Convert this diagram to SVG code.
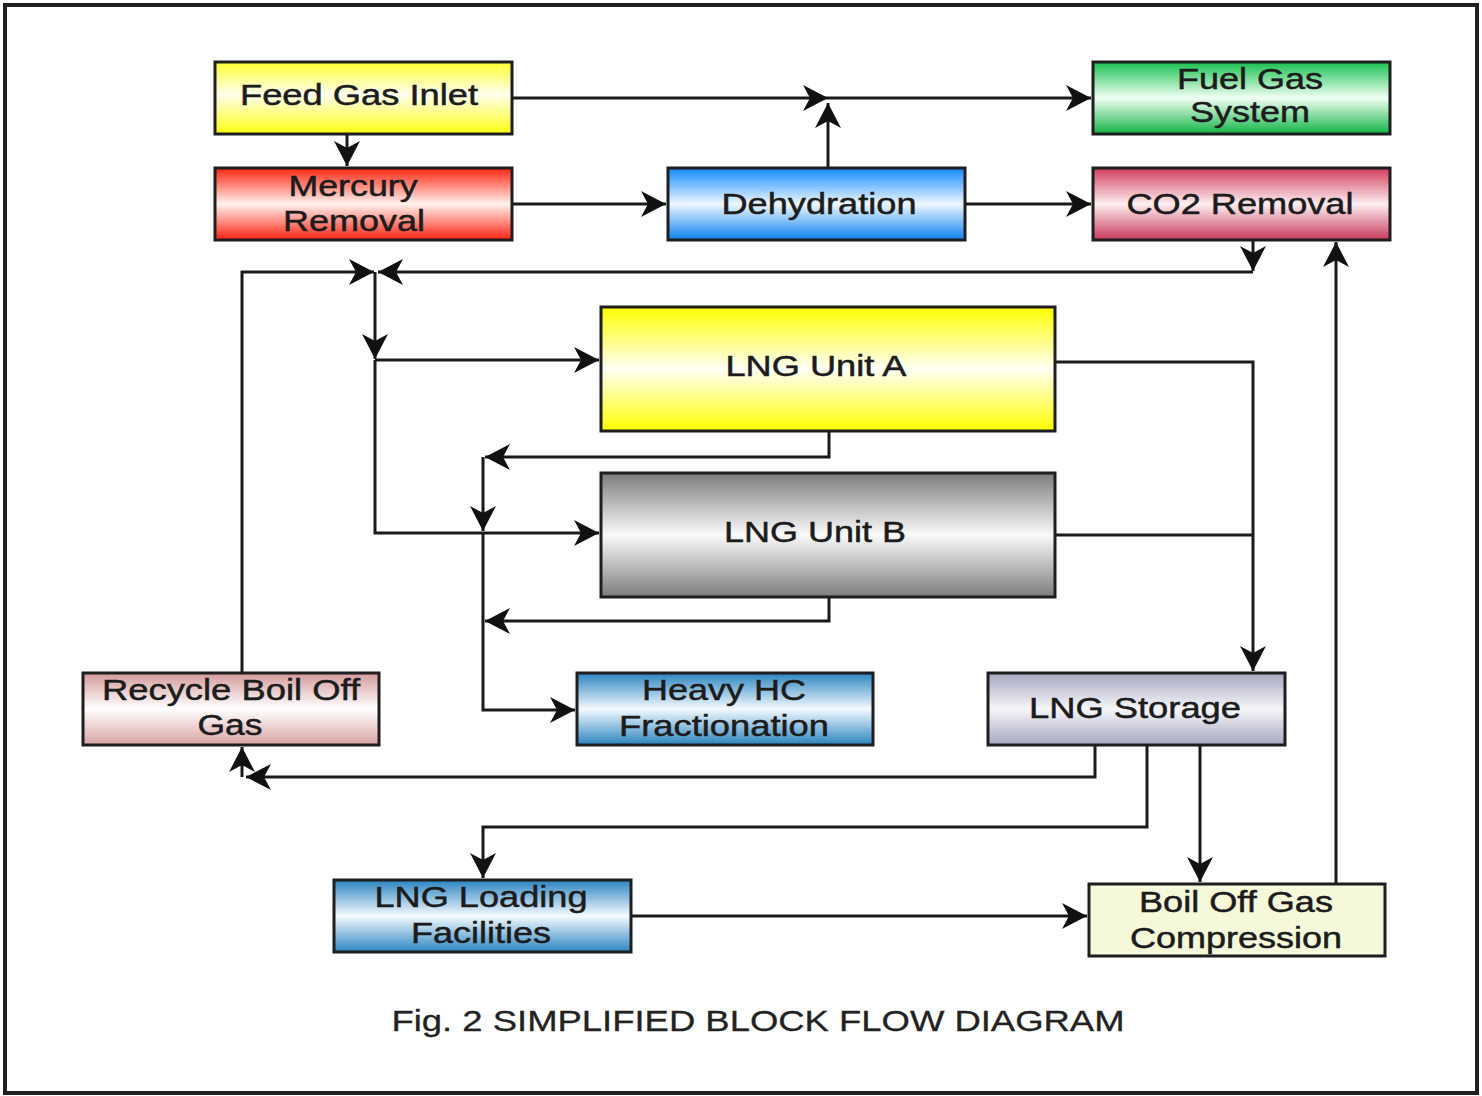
<svg xmlns="http://www.w3.org/2000/svg" width="1482" height="1096" viewBox="0 0 1482 1096">
<defs>
<style>
.box{stroke:#1e1e1e;stroke-width:3}
.t{font-family:"Liberation Sans",Arial,sans-serif;font-size:30px;fill:#1c1c1c;stroke:#1c1c1c;stroke-width:0.5;text-anchor:middle}
.c{fill:none;stroke:#1a1a1a;stroke-width:3}
.a{marker-end:url(#ah)}
</style>
<marker id="ah" viewBox="-26 -14 28 28" refX="0" refY="0" markerWidth="28" markerHeight="28" markerUnits="userSpaceOnUse" orient="auto">
<path d="M0,0 L-25,-13 L-18,0 L-25,13 Z" fill="#111"/>
</marker>
<linearGradient id="gY" x1="0" y1="0" x2="0" y2="1"><stop offset="0" stop-color="#ffff30"/><stop offset="0.45" stop-color="#ffffee"/><stop offset="1" stop-color="#ffff10"/></linearGradient>
<linearGradient id="gR" x1="0" y1="0" x2="0" y2="1"><stop offset="0" stop-color="#ff2410"/><stop offset="0.5" stop-color="#fff2ee"/><stop offset="1" stop-color="#ff2010"/></linearGradient>
<linearGradient id="gB" x1="0" y1="0" x2="0" y2="1"><stop offset="0" stop-color="#1088ff"/><stop offset="0.5" stop-color="#eef7ff"/><stop offset="1" stop-color="#0a80f0"/></linearGradient>
<linearGradient id="gG" x1="0" y1="0" x2="0" y2="1"><stop offset="0" stop-color="#18c050"/><stop offset="0.5" stop-color="#f2fff4"/><stop offset="1" stop-color="#10b444"/></linearGradient>
<linearGradient id="gC" x1="0" y1="0" x2="0" y2="1"><stop offset="0" stop-color="#d03c5c"/><stop offset="0.5" stop-color="#fdeef0"/><stop offset="1" stop-color="#c8385a"/></linearGradient>
<linearGradient id="gA" x1="0" y1="0" x2="0" y2="1"><stop offset="0" stop-color="#ffff00"/><stop offset="0.5" stop-color="#fffff6"/><stop offset="1" stop-color="#ffff00"/></linearGradient>
<linearGradient id="gGr" x1="0" y1="0" x2="0" y2="1"><stop offset="0" stop-color="#7c7c7c"/><stop offset="0.5" stop-color="#fafafa"/><stop offset="1" stop-color="#7c7c7c"/></linearGradient>
<linearGradient id="gP" x1="0" y1="0" x2="0" y2="1"><stop offset="0" stop-color="#d49a9a"/><stop offset="0.5" stop-color="#ffffff"/><stop offset="1" stop-color="#d8a2a2"/></linearGradient>
<linearGradient id="gS" x1="0" y1="0" x2="0" y2="1"><stop offset="0" stop-color="#2a84c0"/><stop offset="0.5" stop-color="#f4faff"/><stop offset="1" stop-color="#2a84c0"/></linearGradient>
<linearGradient id="gL" x1="0" y1="0" x2="0" y2="1"><stop offset="0" stop-color="#a6a6c0"/><stop offset="0.5" stop-color="#f6f6fa"/><stop offset="1" stop-color="#a6a6c0"/></linearGradient>
</defs>
<rect x="0" y="0" width="1482" height="1096" fill="#ffffff"/>
<rect x="5" y="5" width="1472" height="1088" fill="none" stroke="#202020" stroke-width="4"/>

<g id="connectors">
<path class="c a" d="M512,98 H828"/>
<path class="c a" d="M828,98 H1091"/>
<path class="c a" d="M828,168 V103"/>
<path class="c a" d="M347,134 V166"/>
<path class="c a" d="M512,204 H666"/>
<path class="c a" d="M965,204 H1091"/>
<path class="c a" d="M1253,240 V271"/>
<path class="c a" d="M1253,272 H378"/>
<path class="c a" d="M242,673 V272 H374"/>
<path class="c a" d="M375,272 V359"/>
<path class="c a" d="M375,360 H599"/>
<path class="c a" d="M375,360 V533 H599"/>
<path class="c a" d="M829,431 V457 H485"/>
<path class="c a" d="M483,457 V531"/>
<path class="c a" d="M483,533 V710 H575"/>
<path class="c a" d="M829,597 V621 H485"/>
<path class="c a" d="M1055,362 H1253 V671"/>
<path class="c" d="M1055,535 H1253"/>
<path class="c a" d="M1095,745 V777 H246"/>
<path class="c a" d="M242,777 V747"/>
<path class="c a" d="M1147,745 V827 H483 V878"/>
<path class="c a" d="M1200,745 V882"/>
<path class="c a" d="M631,916 H1087"/>
<path class="c a" d="M1336,884 V242"/>
</g>

<g id="feed-gas-inlet"><rect class="box" x="215" y="62" width="297" height="72" fill="url(#gY)"/><text class="t" x="359" y="105" textLength="238" lengthAdjust="spacingAndGlyphs">Feed Gas Inlet</text></g>
<g id="mercury-removal"><rect class="box" x="215" y="168" width="297" height="72" fill="url(#gR)"/><text class="t" x="353" y="196" textLength="129" lengthAdjust="spacingAndGlyphs">Mercury</text><text class="t" x="354" y="231" textLength="142" lengthAdjust="spacingAndGlyphs">Removal</text></g>
<g id="dehydration"><rect class="box" x="668" y="168" width="297" height="72" fill="url(#gB)"/><text class="t" x="819" y="214" textLength="195" lengthAdjust="spacingAndGlyphs">Dehydration</text></g>
<g id="fuel-gas-system"><rect class="box" x="1093" y="62" width="297" height="72" fill="url(#gG)"/><text class="t" x="1250" y="89" textLength="146" lengthAdjust="spacingAndGlyphs">Fuel Gas</text><text class="t" x="1250" y="122" textLength="120" lengthAdjust="spacingAndGlyphs">System</text></g>
<g id="co2-removal"><rect class="box" x="1093" y="168" width="297" height="72" fill="url(#gC)"/><text class="t" x="1240" y="214" textLength="227" lengthAdjust="spacingAndGlyphs">CO2 Removal</text></g>
<g id="lng-unit-a"><rect class="box" x="601" y="307" width="454" height="124" fill="url(#gA)"/><text class="t" x="816" y="376" textLength="181" lengthAdjust="spacingAndGlyphs">LNG Unit A</text></g>
<g id="lng-unit-b"><rect class="box" x="601" y="473" width="454" height="124" fill="url(#gGr)"/><text class="t" x="815" y="542" textLength="182" lengthAdjust="spacingAndGlyphs">LNG Unit B</text></g>
<g id="recycle-boil-off-gas"><rect class="box" x="83" y="673" width="296" height="72" fill="url(#gP)"/><text class="t" x="231" y="700" textLength="258" lengthAdjust="spacingAndGlyphs">Recycle Boil Off</text><text class="t" x="230" y="735" textLength="65" lengthAdjust="spacingAndGlyphs">Gas</text></g>
<g id="heavy-hc-fractionation"><rect class="box" x="577" y="673" width="296" height="72" fill="url(#gS)"/><text class="t" x="724" y="700" textLength="164" lengthAdjust="spacingAndGlyphs">Heavy HC</text><text class="t" x="724" y="736" textLength="210" lengthAdjust="spacingAndGlyphs">Fractionation</text></g>
<g id="lng-storage"><rect class="box" x="988" y="673" width="297" height="72" fill="url(#gL)"/><text class="t" x="1135" y="718" textLength="212" lengthAdjust="spacingAndGlyphs">LNG Storage</text></g>
<g id="lng-loading-facilities"><rect class="box" x="334" y="880" width="297" height="72" fill="url(#gS)"/><text class="t" x="481" y="907" textLength="213" lengthAdjust="spacingAndGlyphs">LNG Loading</text><text class="t" x="481" y="943" textLength="140" lengthAdjust="spacingAndGlyphs">Facilities</text></g>
<g id="boil-off-gas-compression"><rect class="box" x="1089" y="884" width="296" height="72" fill="#f6f8da"/><text class="t" x="1236" y="912" textLength="194" lengthAdjust="spacingAndGlyphs">Boil Off Gas</text><text class="t" x="1236" y="948" textLength="212" lengthAdjust="spacingAndGlyphs">Compression</text></g>

<text class="t" x="758" y="1031" font-size="31" textLength="733" lengthAdjust="spacingAndGlyphs" style="fill:#222;stroke:#222;stroke-width:0.3">Fig. 2 SIMPLIFIED BLOCK FLOW DIAGRAM</text>
</svg>
